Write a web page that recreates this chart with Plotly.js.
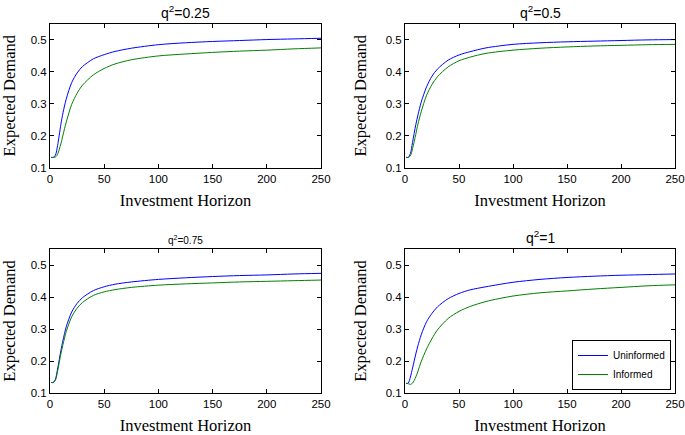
<!DOCTYPE html>
<html>
<head>
<meta charset="utf-8">
<script src="https://cdn.plot.ly/plotly-3.0.1.min.js"></script>
<style>html,body{margin:0;padding:0;background:#fff;}#chart{width:685px;height:435px;}</style>
</head>
<body>
<div id="chart"></div>
<script>
// Investment horizon sample points
var horizon = [1,3,5,7,10,12,15,20,25,30,40,50,60,75,100,125,150,175,200,225,250];

// Panel titles
var panelTitles = ["q<sup>2</sup>=0.25","q<sup>2</sup>=0.5","q<sup>2</sup>=0.75","q<sup>2</sup>=1"];
var seriesNames = ["Uninformed","Informed"];

// q^2 = 0.25
var uninformed025 = [0.133,0.133,0.14,0.17,0.235,0.272,0.315,0.366,0.396,0.416,0.44,0.453,0.463,0.473,0.484,0.49,0.494,0.497,0.5,0.502,0.504];
var informed025   = [0.133,0.133,0.134,0.143,0.175,0.203,0.243,0.298,0.333,0.358,0.39,0.41,0.424,0.437,0.449,0.455,0.46,0.464,0.467,0.471,0.474];
// q^2 = 0.5
var uninformed05 = [0.133,0.133,0.145,0.18,0.235,0.265,0.305,0.353,0.386,0.408,0.436,0.452,0.462,0.474,0.485,0.49,0.493,0.495,0.497,0.499,0.5];
var informed05   = [0.133,0.133,0.138,0.16,0.205,0.237,0.275,0.327,0.36,0.384,0.415,0.434,0.445,0.457,0.467,0.473,0.477,0.48,0.482,0.484,0.485];
// q^2 = 0.75
var uninformed075 = [0.133,0.133,0.143,0.175,0.232,0.265,0.307,0.353,0.38,0.398,0.42,0.432,0.44,0.447,0.455,0.46,0.464,0.467,0.469,0.472,0.474];
var informed075   = [0.133,0.133,0.14,0.168,0.222,0.252,0.292,0.338,0.365,0.383,0.405,0.416,0.423,0.43,0.437,0.441,0.444,0.447,0.449,0.451,0.453];
// q^2 = 1
var uninformed1 = [0.13,0.131,0.15,0.178,0.222,0.248,0.282,0.323,0.349,0.369,0.395,0.411,0.422,0.432,0.446,0.455,0.461,0.465,0.468,0.47,0.472];
var informed1   = [0.13,0.129,0.127,0.131,0.15,0.168,0.198,0.238,0.27,0.297,0.333,0.355,0.37,0.386,0.403,0.413,0.419,0.425,0.43,0.435,0.438];

var panels = [
  {u: uninformed025, i: informed025},
  {u: uninformed05,  i: informed05},
  {u: uninformed075, i: informed075},
  {u: uninformed1,   i: informed1}
];

var blue = "#0000ff", green = "#008000";
var data = [];
panels.forEach(function(p, k){
  var xa = k === 0 ? "x" : "x" + (k+1);
  var ya = k === 0 ? "y" : "y" + (k+1);
  data.push({x: horizon, y: p.u, xaxis: xa, yaxis: ya, type: "scatter", mode: "lines",
    name: seriesNames[0], line: {color: blue, width: 1, shape: "spline", smoothing: 0.8}, showlegend: k === 3});
  data.push({x: horizon, y: p.i, xaxis: xa, yaxis: ya, type: "scatter", mode: "lines",
    name: seriesNames[1], line: {color: green, width: 1, shape: "spline", smoothing: 0.8}, showlegend: k === 3});
});

var W = 685, H = 435;
var xdom = [[50/W, 321/W], [405/W, 675/W]];
var ydomTop = [1 - 168/H, 1 - 23.5/H];
var ydomBot = [1 - 393/H, 1 - 249/H];
var doms = [[xdom[0], ydomTop], [xdom[1], ydomTop], [xdom[0], ydomBot], [xdom[1], ydomBot]];

var tickFont = {family: "Arial, Liberation Sans, sans-serif", size: 11.5, color: "#000"};
var titleFont = {family: "Liberation Serif, Times New Roman, serif", size: 16.5, color: "#000"};

var layout = {
  width: W, height: H,
  margin: {l: 0, r: 0, t: 0, b: 0},
  paper_bgcolor: "#fff", plot_bgcolor: "#fff",
  showlegend: true,
  legend: {x: 671/W, xanchor: "right", y: 1 - 340/H, yanchor: "top",
    bordercolor: "#000", borderwidth: 1, bgcolor: "#fff",
    font: {family: "Arial, Liberation Sans, sans-serif", size: 10, color: "#000"},
    itemwidth: 30, tracegroupgap: 0},
  annotations: []
};

var titleSizes = [14, 14, 10, 14];
doms.forEach(function(d, k){
  var sx = k === 0 ? "xaxis" : "xaxis" + (k+1);
  var sy = k === 0 ? "yaxis" : "yaxis" + (k+1);
  var xa = k === 0 ? "x" : "x" + (k+1);
  var ya = k === 0 ? "y" : "y" + (k+1);
  layout[sx] = {domain: d[0], anchor: ya, range: [0, 250], tickvals: [0,50,100,150,200,250],
    ticks: "inside", ticklen: 4, tickcolor: "#000", mirror: "ticks", showline: true,
    linecolor: "#000", linewidth: 1, showgrid: false, zeroline: false, tickfont: tickFont,
    ticklabeloverflow: "allow",
    title: {text: "Investment Horizon", font: titleFont, standoff: 10}};
  layout[sy] = {domain: d[1], anchor: xa, range: [0.1, 0.55], tickvals: [0.1,0.2,0.3,0.4,0.5],
    tickformat: ".1f", ticks: "inside", ticklen: 4, tickcolor: "#000", mirror: "ticks", showline: true,
    linecolor: "#000", linewidth: 1, showgrid: false, zeroline: false, tickfont: tickFont,
    ticklabeloverflow: "allow",
    title: {text: "Expected Demand", font: titleFont, standoff: 14}};
  layout.annotations.push({text: panelTitles[k], xref: "paper", yref: "paper",
    x: (d[0][0] + d[0][1]) / 2, y: d[1][1], xanchor: "center", yanchor: "bottom", yshift: 1,
    showarrow: false, font: {family: "Arial, Liberation Sans, sans-serif", size: titleSizes[k], color: "#000"}});
});

Plotly.newPlot("chart", data, layout, {staticPlot: true, displayModeBar: false});
</script>
</body>
</html>
